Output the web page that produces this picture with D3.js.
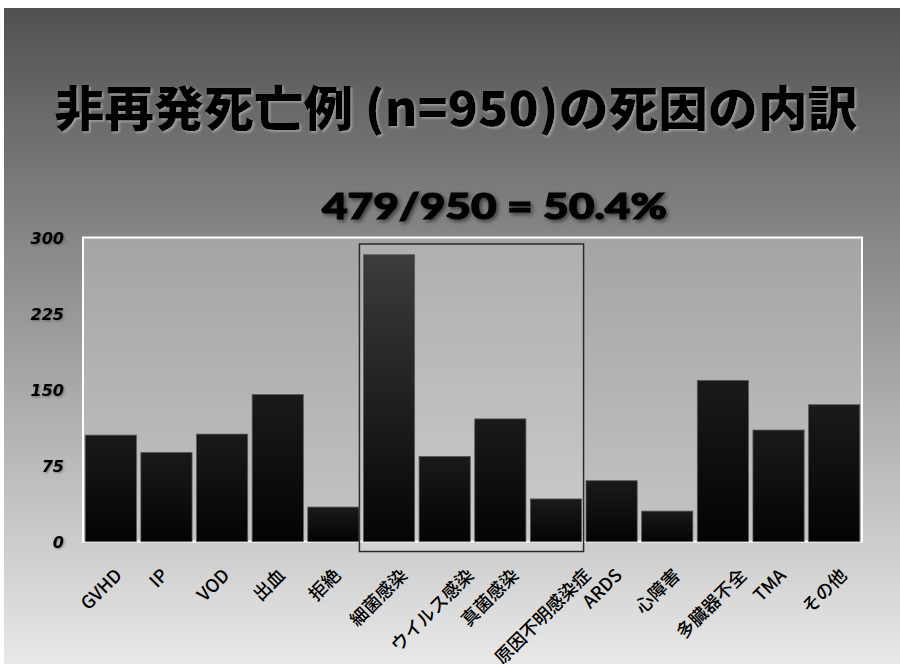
<!DOCTYPE html>
<html>
<head>
<meta charset="utf-8">
<script src="https://cdn.jsdelivr.net/npm/d3@7"></script>
<style>
  html, body { margin: 0; padding: 0; background: #fff; }
  svg { display: block; }
</style>
</head>
<body>
<div id="chart"></div>
<script>
// Chart data
const causes = ["GVHD", "IP", "VOD", "出血", "拒絶", "細菌感染", "ウイルス感染", "真菌感染",
    "原因不明感染症", "ARDS", "心障害", "多臓器不全", "TMA", "その他"];
const deaths = [105, 88, 106, 145, 34, 283, 84, 121, 42, 60, 30, 159, 110, 135];
const yTicks = [0, 75, 150, 225, 300];
const infectionCauses = ["細菌感染", "ウイルス感染", "真菌感染", "原因不明感染症"];
const titleText = "非再発死亡例 (n=950)の死因の内訳";
const subtitleText = "479/950 = 50.4%";

const W = 900, H = 664;
const plot = { left: 83, right: 862, top: 237.5, bottom: 541.5 };

let svg = d3.select("#chart")
    .append("svg")
    .attr("width", W)
    .attr("height", H);

let defs = svg.append("defs");

// Slide background gradient.
let bg = defs.append("linearGradient").attr("id", "bg").attr("x1", 0).attr("y1", 0).attr("x2", 0).attr("y2", 1);
bg.append("stop").attr("offset", 0).attr("stop-color", "#515151");
bg.append("stop").attr("offset", 0.4).attr("stop-color", "#8e8e8e");
bg.append("stop").attr("offset", 1).attr("stop-color", "#e8e8e8");

// Plot area gradient.
let pg = defs.append("linearGradient").attr("id", "plotbg").attr("x1", 0).attr("y1", 0).attr("x2", 0).attr("y2", 1);
pg.append("stop").attr("offset", 0).attr("stop-color", "#a4a4a4");
pg.append("stop").attr("offset", 1).attr("stop-color", "#c4c4c4");

// Bar gradients.
let barg = defs.append("linearGradient").attr("id", "bar").attr("x1", 0).attr("y1", 0).attr("x2", 0).attr("y2", 1);
barg.append("stop").attr("offset", 0).attr("stop-color", "#1a1a1a");
barg.append("stop").attr("offset", 1).attr("stop-color", "#030303");

let tallBar = defs.append("linearGradient").attr("id", "barTall").attr("x1", 0).attr("y1", 0).attr("x2", 0).attr("y2", 1);
tallBar.append("stop").attr("offset", 0).attr("stop-color", "#3c3c3c");
tallBar.append("stop").attr("offset", 1).attr("stop-color", "#040404");

// Shadows for the headings and labels.
defs.append("filter").attr("id", "titleShadow").attr("x", "-5%").attr("y", "-20%").attr("width", "110%").attr("height", "150%")
    .append("feDropShadow").attr("dx", 1.5).attr("dy", 1.5).attr("stdDeviation", 0.8)
    .attr("flood-color", "#b0b0b0").attr("flood-opacity", 0.8);
defs.append("filter").attr("id", "subShadow").attr("x", "-10%").attr("y", "-30%").attr("width", "120%").attr("height", "170%")
    .append("feDropShadow").attr("dx", 2).attr("dy", 2).attr("stdDeviation", 2.2)
    .attr("flood-color", "#000").attr("flood-opacity", 0.55);
defs.append("filter").attr("id", "tickShadow").attr("x", "-20%").attr("y", "-30%").attr("width", "140%").attr("height", "170%")
    .append("feDropShadow").attr("dx", 1).attr("dy", 1).attr("stdDeviation", 1)
    .attr("flood-color", "#000").attr("flood-opacity", 0.35);

// Background (white strips at top and left like the source photo).
svg.append("rect").attr("x", 4).attr("y", 8).attr("width", W - 4).attr("height", H - 8).attr("fill", "url(#bg)");

// Titles.
svg.append("text")
    .attr("x", 456).attr("y", 126)
    .attr("text-anchor", "middle")
    .attr("textLength", 803).attr("lengthAdjust", "spacingAndGlyphs")
    .style("font-family", "'Noto Sans CJK JP', sans-serif")
    .style("font-weight", 900)
    .style("font-size", "48px")
    .attr("fill", "#000")
    .attr("filter", "url(#titleShadow)")
    .text(titleText);

svg.append("text")
    .attr("x", 494.5).attr("y", 219)
    .attr("text-anchor", "middle")
    .attr("textLength", 345).attr("lengthAdjust", "spacingAndGlyphs")
    .style("font-family", "Lato, 'Open Sans', sans-serif")
    .style("font-weight", 900)
    .style("font-size", "36px")
    .attr("fill", "#000")
    .attr("stroke", "#000").attr("stroke-width", 1.2)
    .attr("filter", "url(#subShadow)")
    .text(subtitleText);

// Scales.
let x = d3.scaleBand()
    .domain(causes)
    .range([plot.left, plot.right])
    .paddingInner(0.08)
    .paddingOuter(0.04);

let y = d3.scaleLinear()
    .domain([0, 300])
    .range([plot.bottom, plot.top]);

// Plot area.
svg.append("rect")
    .attr("x", plot.left).attr("y", plot.top)
    .attr("width", plot.right - plot.left).attr("height", plot.bottom - plot.top)
    .attr("fill", "url(#plotbg)")
    .attr("stroke", "#ffffff").attr("stroke-width", 2);

// Box around infection causes.
let boxLeft = x(infectionCauses[0]) - 4;
let boxRight = x(infectionCauses[infectionCauses.length - 1]) + x.bandwidth() + 2;
svg.append("rect")
    .attr("x", boxLeft).attr("y", 244)
    .attr("width", boxRight - boxLeft).attr("height", plot.bottom + 10 - 244)
    .attr("fill", "#ffffff").attr("fill-opacity", 0.12)
    .attr("stroke", "#2a2a2a").attr("stroke-width", 1.5);

// Bars.
svg.append("g")
    .selectAll("rect")
    .data(causes.map((c, i) => ({ cause: c, value: deaths[i] })))
    .enter()
    .append("rect")
    .attr("x", d => x(d.cause))
    .attr("y", d => y(d.value))
    .attr("width", x.bandwidth())
    .attr("height", d => y(0) - y(d.value))
    .attr("fill", d => d.value > 200 ? "url(#barTall)" : "url(#bar)")
    .attr("stroke", "#5a5a5a").attr("stroke-width", 0.8);

// Y axis labels.
let yAxis = svg.append("g")
    .attr("transform", "translate(" + (plot.left - 19) + ",0)")
    .call(d3.axisLeft(y).tickValues(yTicks).tickSize(0).tickPadding(0));
yAxis.select(".domain").remove();
yAxis.selectAll("text")
    .attr("dy", "0.36em")
    .style("font-family", "'DejaVu Sans', sans-serif")
    .style("font-weight", "bold")
    .style("font-style", "italic")
    .style("font-size", "16px")
    .attr("fill", "#000")
    .attr("filter", "url(#tickShadow)");

// X labels, rotated about their centre, top aligned.
const labelTop = 566;
const labelH = 17;
let labels = svg.append("g")
    .selectAll("text")
    .data(causes)
    .enter()
    .append("text")
    .attr("text-anchor", "middle")
    .attr("dy", "0.35em")
    .style("font-family", "'Noto Sans CJK JP', sans-serif")
    .style("font-weight", 500)
    .style("font-size", "18px")
    .attr("fill", "#000")
    .text(d => d);

labels.attr("transform", function (d) {
    let len = this.getComputedTextLength();
    let cx = x(d) + x.bandwidth() / 2 - 7 - len * 0.05;
    let cy = labelTop + (len + labelH) * 0.3536;
    return "translate(" + cx + "," + cy + ") rotate(-45)";
});
</script>
</body>
</html>
